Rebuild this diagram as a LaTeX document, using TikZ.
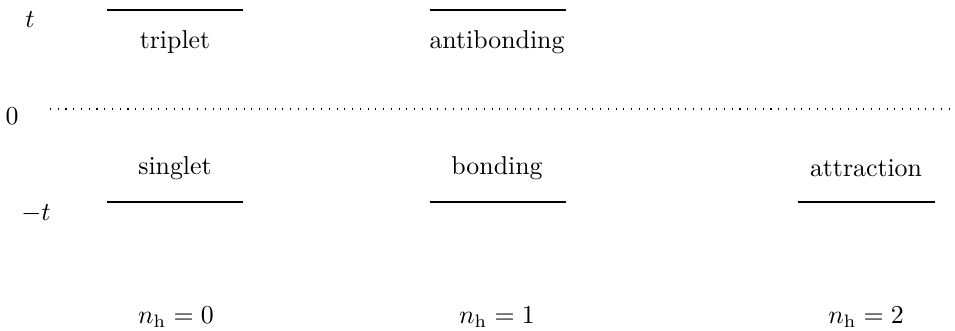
\documentclass[tikz,border=0pt]{standalone}
\begin{document}
\begin{tikzpicture}[x=0.01361cm,y=-0.01361cm,
  level/.style={line width=0.8pt},
  lbl/.style={inner sep=0pt, anchor=center}]
\useasboundingbox (0,0) rectangle (955,331);
% axis labels
\node[lbl] (tl) at (30,20) {$t$};
\node[lbl] (zl) at (12,116) {$0$};
\node[lbl] (mtl) at (36,214) {$-t$};
% zero line
\coordinate (z0) at (50,109);
\coordinate (z1) at (955,109);
\draw[dash pattern=on 0.4pt off 2.6pt] (z0) -- (z1);
% top levels
\coordinate (a1) at (107,10); \coordinate (a2) at (243,10);
\coordinate (b1) at (430,10); \coordinate (b2) at (566,10);
\draw[level] (a1) -- (a2);
\draw[level] (b1) -- (b2);
\node[lbl] (trip) at (175,42) {triplet};
\node[lbl] (anti) at (497,42) {antibonding};
% bottom levels
\coordinate (c1) at (107,202); \coordinate (c2) at (243,202);
\coordinate (d1) at (430,202); \coordinate (d2) at (566,202);
\coordinate (e1) at (798,202); \coordinate (e2) at (935,202);
\draw[level] (c1) -- (c2);
\draw[level] (d1) -- (d2);
\draw[level] (e1) -- (e2);
\node[lbl] (sing) at (175,168) {singlet};
\node[lbl] (bond) at (497,168) {bonding};
\node[lbl] (attr) at (866,168) {attraction};
% hole numbers
\node[lbl] (n0) at (176,317) {$n_{\mathrm{h}}=0$};
\node[lbl] (n1) at (497,317) {$n_{\mathrm{h}}=1$};
\node[lbl] (n2) at (866,317) {$n_{\mathrm{h}}=2$};
\end{tikzpicture}
\end{document}
